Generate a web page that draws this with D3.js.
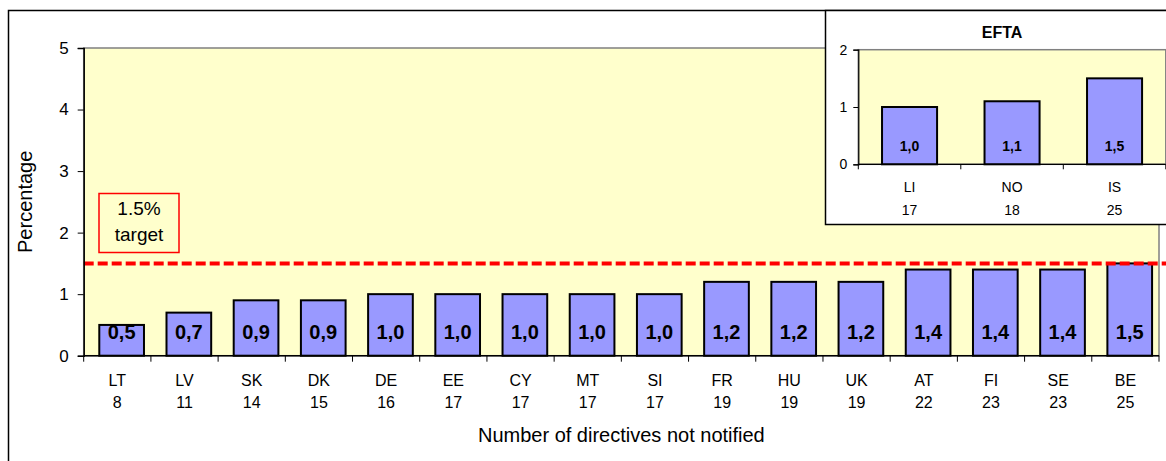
<!DOCTYPE html>
<html>
<head>
<meta charset="utf-8">
<script src="https://cdn.jsdelivr.net/npm/d3@7/dist/d3.min.js"></script>
<style>
  html, body { margin: 0; padding: 0; background: #fff; }
  svg { display: block; font-family: Arial, "Liberation Sans", sans-serif; }
</style>
</head>
<body>
<svg id="chart" width="1166" height="461"></svg>
<script>
// ---- Data ----
const countries = ["LT","LV","SK","DK","DE","EE","CY","MT","SI","FR","HU","UK","AT","FI","SE","BE"];
const notNotified = [8, 11, 14, 15, 16, 17, 17, 17, 17, 19, 19, 19, 22, 23, 23, 25];
const percentages = [0.5, 0.7, 0.9, 0.9, 1.0, 1.0, 1.0, 1.0, 1.0, 1.2, 1.2, 1.2, 1.4, 1.4, 1.4, 1.5];
const yTicks = [0, 1, 2, 3, 4, 5];
const targetValue = 1.5;

const eftaCountries = ["LI", "NO", "IS"];
const eftaNotNotified = [17, 18, 25];
const eftaPercentages = [1.0, 1.1, 1.5];
const eftaTicks = [0, 1, 2];

const fmt = v => v.toFixed(1).replace(".", ",");

const svg = d3.select("#chart");
const BG = "#FFFFCC", BAR = "#9999FF";

// outer border
svg.append("rect").attr("x", 8.5).attr("y", 10.5).attr("width", 1170).attr("height", 470)
  .attr("fill", "#fff").attr("stroke", "#000").attr("stroke-width", 1.5);

// ---- Main chart ----
const L = 83.7, R = 1159, T = 48, B = 355.7;
const x = d3.scaleBand().domain(countries).range([L, R]).paddingInner(0).paddingOuter(0);
const y = d3.scaleLinear().domain([0, 5]).range([B, T]);

svg.append("rect").attr("x", L).attr("y", T).attr("width", R - L).attr("height", B - T)
  .attr("fill", BG).attr("stroke", "#808080").attr("stroke-width", 1.5);

// bars
const data = countries.map((c, i) => ({c, n: notNotified[i], v: percentages[i]}));
const bw = x.bandwidth();
const barOff = bw * 0.232, barW = bw * 0.665;
svg.selectAll("rect.bar").data(data).enter().append("rect").attr("class", "bar")
  .attr("x", d => x(d.c) + barOff)
  .attr("y", d => y(d.v))
  .attr("width", barW)
  .attr("height", d => B - y(d.v))
  .attr("fill", BAR).attr("stroke", "#000").attr("stroke-width", 2);

svg.selectAll("text.blab").data(data).enter().append("text").attr("class", "blab")
  .attr("x", d => x(d.c) + barOff + barW / 2)
  .attr("y", B - 16.5)
  .attr("text-anchor", "middle").attr("font-weight", "bold").attr("font-size", 20)
  .attr("fill", "#000").text(d => fmt(d.v));

// target line
svg.append("line").attr("x1", L).attr("x2", 1166).attr("y1", y(targetValue)).attr("y2", y(targetValue))
  .attr("stroke", "#FF0000").attr("stroke-width", 4).attr("stroke-dasharray", "10,4");

// y axis
const yAxis = d3.axisLeft(y).tickValues(yTicks).tickSize(6).tickPadding(9).tickFormat(d3.format("d"));
const gy = svg.append("g").attr("transform", `translate(${L},0)`).call(yAxis);
gy.select(".domain").attr("stroke", "#000").attr("stroke-width", 1.5);
gy.selectAll(".tick line").attr("stroke", "#000");
gy.selectAll(".tick text").attr("font-size", 17).attr("font-family", "Arial, 'Liberation Sans', sans-serif").attr("fill", "#000");

// x axis (ticks at band boundaries)
const boundaries = countries.map(c => x(c)).concat([R]);
svg.append("line").attr("x1", L).attr("x2", R).attr("y1", B).attr("y2", B).attr("stroke", "#000").attr("stroke-width", 1.5);
svg.selectAll("line.xt").data(boundaries).enter().append("line").attr("class", "xt")
  .attr("x1", d => d).attr("x2", d => d).attr("y1", B).attr("y2", B + 6)
  .attr("stroke", "#000").attr("stroke-width", 1);
svg.selectAll("text.xc").data(data).enter().append("text").attr("class", "xc")
  .attr("x", d => x(d.c) + bw / 2).attr("y", 386)
  .attr("text-anchor", "middle").attr("font-size", 16).attr("fill", "#000").text(d => d.c);
svg.selectAll("text.xn").data(data).enter().append("text").attr("class", "xn")
  .attr("x", d => x(d.c) + bw / 2).attr("y", 407.5)
  .attr("text-anchor", "middle").attr("font-size", 16).attr("fill", "#000").text(d => d.n);

// axis titles
svg.append("text").attr("x", (L + R) / 2).attr("y", 442)
  .attr("text-anchor", "middle").attr("font-size", 20).attr("fill", "#000")
  .text("Number of directives not notified");
svg.append("text").attr("transform", `translate(32,${(T + B) / 2}) rotate(-90)`)
  .attr("text-anchor", "middle").attr("font-size", 20).attr("fill", "#000").text("Percentage");

// target box
svg.append("rect").attr("x", 99).attr("y", 193.5).attr("width", 80).attr("height", 59)
  .attr("fill", BG).attr("stroke", "#FF0000").attr("stroke-width", 1.5);
svg.append("text").attr("x", 139).attr("y", 215).attr("text-anchor", "middle")
  .attr("font-size", 19).attr("fill", "#000").text("1.5%");
svg.append("text").attr("x", 139).attr("y", 241).attr("text-anchor", "middle")
  .attr("font-size", 19).attr("fill", "#000").text("target");

// ---- Inset EFTA chart ----
svg.append("rect").attr("x", 825.5).attr("y", 10.5).attr("width", 400).attr("height", 214)
  .attr("fill", "#fff").attr("stroke", "#000").attr("stroke-width", 1.5);

const iL = 858.3, iR = 1165.8, iT = 49.7, iB = 164.3;
const xi = d3.scaleBand().domain(eftaCountries).range([iL, iR]);
const yi = d3.scaleLinear().domain([0, 2]).range([iB, iT]);
svg.append("rect").attr("x", iL).attr("y", iT).attr("width", iR - iL).attr("height", iB - iT)
  .attr("fill", BG).attr("stroke", "#808080").attr("stroke-width", 1.5);

const edata = eftaCountries.map((c, i) => ({c, n: eftaNotNotified[i], v: eftaPercentages[i]}));
const ibw = xi.bandwidth();
const ibarW = ibw * 0.537;
svg.selectAll("rect.ibar").data(edata).enter().append("rect").attr("class", "ibar")
  .attr("x", d => xi(d.c) + (ibw - ibarW) / 2)
  .attr("y", d => yi(d.v))
  .attr("width", ibarW).attr("height", d => iB - yi(d.v))
  .attr("fill", BAR).attr("stroke", "#000").attr("stroke-width", 2);
svg.selectAll("text.iblab").data(edata).enter().append("text").attr("class", "iblab")
  .attr("x", d => xi(d.c) + ibw / 2).attr("y", iB - 13.5)
  .attr("text-anchor", "middle").attr("font-weight", "bold").attr("font-size", 14)
  .attr("fill", "#000").text(d => fmt(d.v));

const yiAxis = d3.axisLeft(yi).tickValues(eftaTicks).tickSize(5).tickPadding(6).tickFormat(d3.format("d"));
const giy = svg.append("g").attr("transform", `translate(${iL},0)`).call(yiAxis);
giy.select(".domain").attr("stroke", "#000").attr("stroke-width", 1.2);
giy.selectAll(".tick line").attr("stroke", "#000");
giy.selectAll(".tick text").attr("font-size", 14).attr("font-family", "Arial, 'Liberation Sans', sans-serif").attr("fill", "#000");

const iBounds = eftaCountries.map(c => xi(c)).concat([iR]);
svg.append("line").attr("x1", iL).attr("x2", iR).attr("y1", iB).attr("y2", iB).attr("stroke", "#000").attr("stroke-width", 1.2);
svg.selectAll("line.ixt").data(iBounds).enter().append("line").attr("class", "ixt")
  .attr("x1", d => d).attr("x2", d => d).attr("y1", iB).attr("y2", iB + 5)
  .attr("stroke", "#000").attr("stroke-width", 1);
svg.selectAll("text.ixc").data(edata).enter().append("text").attr("class", "ixc")
  .attr("x", d => xi(d.c) + ibw / 2).attr("y", 192)
  .attr("text-anchor", "middle").attr("font-size", 14).attr("fill", "#000").text(d => d.c);
svg.selectAll("text.ixn").data(edata).enter().append("text").attr("class", "ixn")
  .attr("x", d => xi(d.c) + ibw / 2).attr("y", 215)
  .attr("text-anchor", "middle").attr("font-size", 14).attr("fill", "#000").text(d => d.n);

svg.append("text").attr("x", 1002).attr("y", 37.5).attr("text-anchor", "middle")
  .attr("font-weight", "bold").attr("font-size", 16).attr("fill", "#000").text("EFTA");
</script>
</body>
</html>
